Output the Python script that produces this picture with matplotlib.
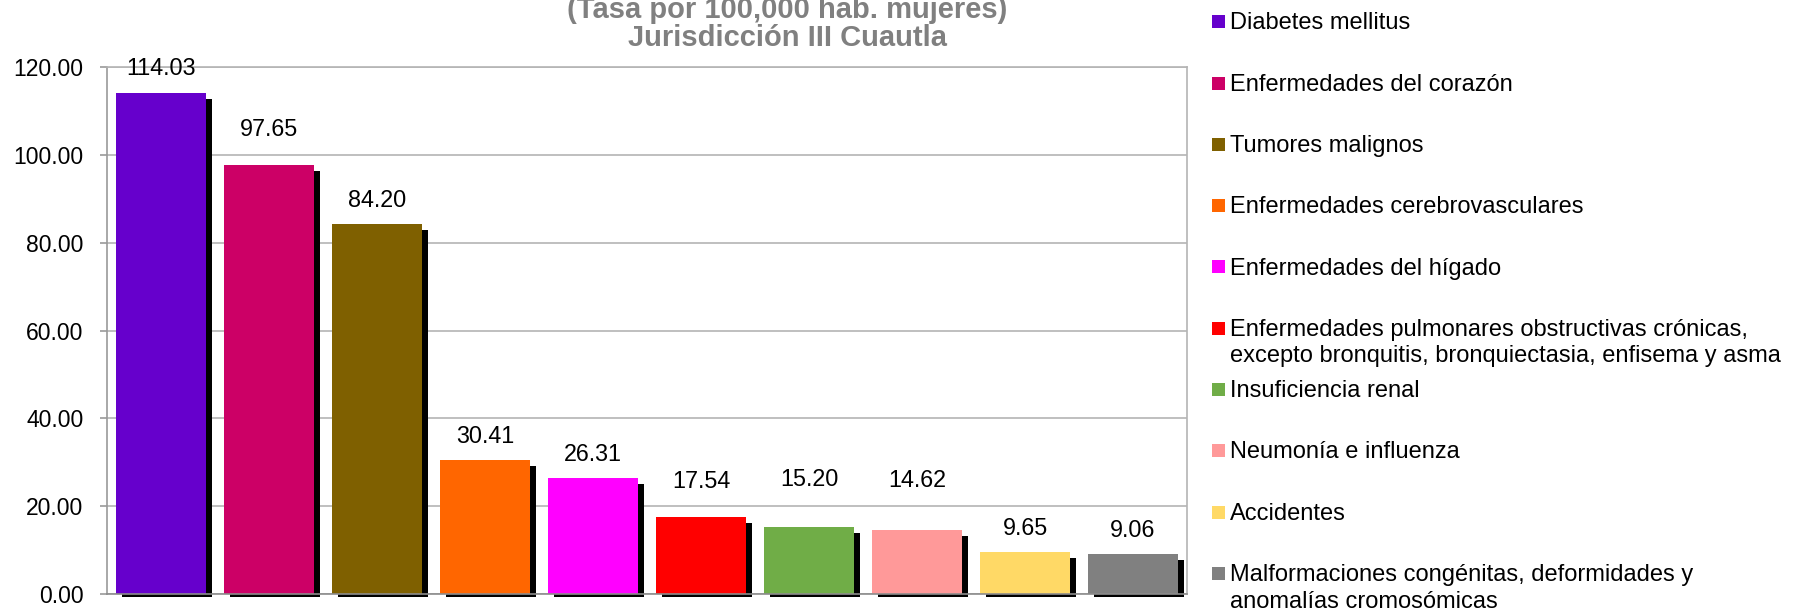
import matplotlib
matplotlib.use("Agg")
import matplotlib.pyplot as plt
from matplotlib.transforms import ScaledTranslation, Bbox
from matplotlib.patches import Rectangle

plt.rcParams['font.family'] = ['Liberation Sans', 'DejaVu Sans']

# ---------------- data ----------------
categories = [
    "Diabetes mellitus",
    "Enfermedades del corazón",
    "Tumores malignos",
    "Enfermedades cerebrovasculares",
    "Enfermedades del hígado",
    "Enfermedades pulmonares obstructivas crónicas,\nexcepto bronquitis, bronquiectasia, enfisema y asma",
    "Insuficiencia renal",
    "Neumonía e influenza",
    "Accidentes",
    "Malformaciones congénitas, deformidades y\nanomalías cromosómicas",
]
values = [114.03, 97.65, 84.20, 30.41, 26.31, 17.54, 15.20, 14.62, 9.65, 9.06]
colors = ["#6600CC", "#CC0066", "#7F6000", "#FF6600", "#FF00FF",
          "#FF0000", "#70AD47", "#FF9999", "#FFD966", "#808080"]
yticks = [0, 20, 40, 60, 80, 100, 120]
title_lines = ["(Tasa por 100,000 hab. mujeres)", "Jurisdicción III Cuautla"]

# layout: vertical offset (pixels) of each value label above its bar
label_offsets_px = [24.5, 36, 24, 24, 23.5, 35, 47.5, 49, 23, 24]

# ---------------- figure ----------------
W, H, DPI = 1794, 610, 100
fig = plt.figure(figsize=(W / DPI, H / DPI), dpi=DPI)
fig.patch.set_facecolor("white")

ax_l, ax_r, ax_t, ax_b = 107, 1187, 67, 594
ax = fig.add_axes([ax_l / W, 1 - ax_b / H, (ax_r - ax_l) / W, (ax_b - ax_t) / H])

x = [i + 0.5 for i in range(len(values))]
bw = 90 / 108

shadow_tr = ax.transData + ScaledTranslation(6 / DPI, -6 / DPI, fig.dpi_scale_trans)
shadows = ax.bar(x, values, width=bw, color="black", transform=shadow_tr, zorder=2)
clip_bb = Bbox.from_extents(ax_l, H - 597, ax_r + 20, H)
for p in shadows:
    p.set_clip_box(clip_bb)
    p.set_clip_on(True)
ax.bar(x, values, width=bw, color=colors, zorder=3)

for xi, v, off in zip(x, values, label_offsets_px):
    ax.annotate(f"{v:.2f}", xy=(xi, v), xytext=(0, off), textcoords="offset pixels",
                ha="center", va="center", fontsize=16.8, color="black", zorder=5)

ax.set_xlim(0, len(values))
ax.set_ylim(0, 120)
ax.set_yticks(yticks)
ax.set_yticklabels([f"{t:.2f}" for t in yticks])
ax.set_xticks([])
ax.yaxis.grid(True, color="#B4B4B4", lw=1.2)
ax.set_axisbelow(True)
for s in ax.spines.values():
    s.set_color("#B4B4B4")
    s.set_linewidth(1.2)
ax.spines["left"].set_color("#999999")
ax.spines["bottom"].set_color("#8C8C8C")
ax.spines["bottom"].set_zorder(4)
ax.tick_params(axis="y", direction="out", length=5, width=1.2, color="#999999",
               labelsize=16.5, pad=12, labelcolor="black")

# ---------------- title ----------------
tx = 787 / W
fig.text(tx, 1 - 17.5 / H, title_lines[0], ha="center", va="baseline",
         fontsize=21, fontweight="bold", color="#808080")
fig.text(tx, 1 - 46 / H, title_lines[1], ha="center", va="baseline",
         fontsize=21, fontweight="bold", color="#808080")

# ---------------- legend ----------------
leg_y0, leg_dy = 21.7, 61.3
sq = 13
line_h = 26.5
for i, (lab, c) in enumerate(zip(categories, colors)):
    yc = leg_y0 + i * leg_dy
    fig.patches.append(Rectangle((1212 / W, 1 - (yc + sq / 2) / H), sq / W, sq / H,
                                 transform=fig.transFigure, facecolor=c, edgecolor="none"))
    for j, line in enumerate(lab.split("\n")):
        fig.text(1230 / W, 1 - (yc + 7.7 + j * line_h) / H, line, ha="left",
                 va="baseline", fontsize=17, color="black")

fig.savefig("out.png", dpi=DPI, facecolor="white")
